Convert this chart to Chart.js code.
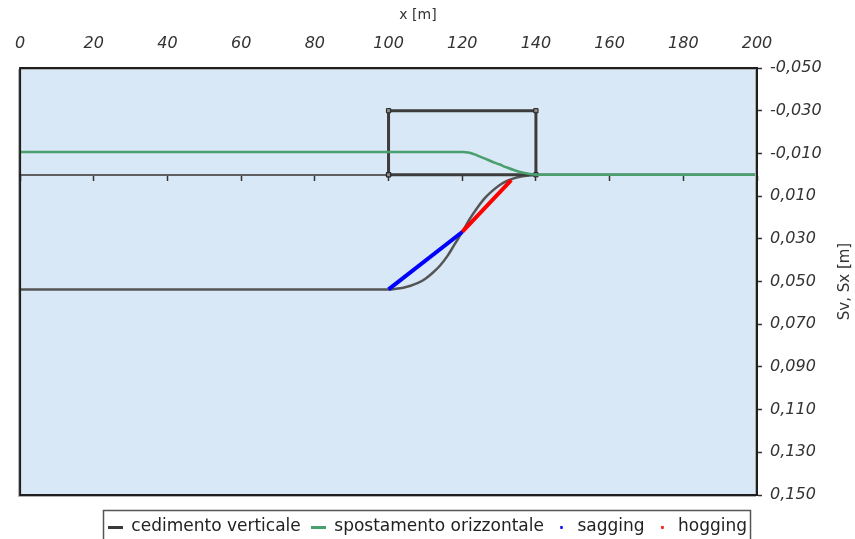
<!DOCTYPE html>
<html>
<head>
<meta charset="utf-8">
<script src="https://cdn.jsdelivr.net/npm/chart.js@4/dist/chart.umd.min.js"></script>
<style>
  html, body { margin: 0; padding: 0; background: #ffffff; }
  #wrap { width: 855px; height: 539px; }
</style>
</head>
<body>
<div id="wrap"><canvas id="c" width="855" height="539"></canvas></div>
<script>
// ---- data ----
const xTicks = [0, 20, 40, 60, 80, 100, 120, 140, 160, 180, 200];
const yTicks = [-0.05, -0.03, -0.01, 0.01, 0.03, 0.05, 0.07, 0.09, 0.11, 0.13, 0.15];

const seriesNames = ['cedimento verticale', 'spostamento orizzontale', 'sagging', 'hogging'];

const cedX = [0, 100, 102, 104, 106, 108, 110, 112, 114, 116, 118, 120, 122, 124, 126, 128, 130, 132, 134, 136, 138, 140, 200];
const cedY = [0.0537, 0.0537, 0.0534, 0.0529, 0.0520, 0.0507, 0.0487, 0.0459, 0.0425, 0.0380, 0.0324, 0.0268, 0.0208, 0.0157, 0.0112, 0.0078, 0.0050, 0.0030, 0.0017, 0.0008, 0.0003, 0.0000, 0.0000];

const spoX = [0, 120, 122, 124, 126, 128, 130, 132, 134, 136, 138, 140, 200];
const spoY = [-0.0107, -0.0107, -0.0103, -0.0091, -0.0077, -0.0062, -0.0049, -0.0035, -0.0022, -0.0012, -0.0005, 0.0000, 0.0000];

const sagX = [100, 120];
const sagY = [0.0537, 0.0268];

const hogX = [120, 133.3];
const hogY = [0.0268, 0.0025];

const edX = [100, 100, 140, 140, 100];
const edY = [0, -0.03, -0.03, 0, 0];

const pts = (xs, ys) => xs.map((x, i) => ({x: x, y: ys[i]}));

// ---- styles ----
const FONT = "'DejaVu Sans', sans-serif";
const colGray = '#555555';
const colGreen = '#4a9f6e';
const colBlue = '#0000ff';
const colRed = '#ff0000';

function marker(w, h, color, round) {
  const c = document.createElement('canvas');
  c.width = w; c.height = h;
  const g = c.getContext('2d');
  g.fillStyle = color;
  if (round) { g.beginPath(); g.arc(w / 2, h / 2, w / 2, 0, Math.PI * 2); g.fill(); }
  else g.fillRect(0, 0, w, h);
  return c;
}
const legendMarkers = [
  marker(15, 3, '#3a3a3a', false),
  marker(15, 3, colGreen, false),
  marker(3, 3, colBlue, true),
  marker(3, 3, colRed, true)
];

const bgPlugin = {
  id: 'plotBg',
  beforeDraw(chart) {
    const {ctx, chartArea: a} = chart;
    ctx.save();
    ctx.fillStyle = '#d9e8f6';
    ctx.fillRect(a.left, a.top, a.right - a.left, a.bottom - a.top);
    ctx.restore();
  },
  beforeLayout(chart) {
    const lg = chart.legend;
    if (lg && !lg._patched) {
      const f = lg.fit;
      lg.fit = function () { f.call(this); this.height = 44; };
      lg._patched = true;
    }
  },
  afterDraw(chart) {
    const {ctx, chartArea: a} = chart;
    ctx.save();
    // frame shadow
    ctx.strokeStyle = '#b0b0b0';
    ctx.lineWidth = 1;
    ctx.strokeRect(a.left - 1.5, a.top + 1.5, a.right - a.left, a.bottom - a.top);
    // frame
    ctx.strokeStyle = '#1e1e1e';
    ctx.lineWidth = 2;
    ctx.strokeRect(a.left, a.top, a.right - a.left, a.bottom - a.top);
    ctx.fillStyle = '#333333';
    // x axis title
    ctx.font = "14px " + FONT;
    ctx.textAlign = 'center';
    ctx.textBaseline = 'middle';
    ctx.fillText('x [m]', 418, 15);
    // y axis title (reads bottom to top)
    ctx.translate(845, (a.top + a.bottom) / 2);
    ctx.rotate(-Math.PI / 2);
    ctx.font = "15px " + FONT;
    ctx.fillText('Sv, Sx [m]', 0, 0);
    ctx.restore();
    // legend frame
    const hb = chart.legend && chart.legend.legendHitBoxes;
    if (hb && hb.length) {
      let l = Infinity, r = -Infinity;
      hb.forEach(h => { l = Math.min(l, h.left); r = Math.max(r, h.left + h.width); });
      ctx.save();
      ctx.strokeStyle = '#555555';
      ctx.lineWidth = 1.5;
      ctx.strokeRect(Math.round(l - 5) + 0.5, 510.5, Math.round(r - l + 8), 40);
      ctx.restore();
    }
  }
};

new Chart(document.getElementById('c'), {
  type: 'scatter',
  data: {
    datasets: [
      {
        label: seriesNames[0], data: pts(cedX, cedY), showLine: true,
        borderColor: colGray, borderWidth: 2.5, pointRadius: 0,
        cubicInterpolationMode: 'monotone', order: 4, xAxisID: 'x', yAxisID: 'y'
      },
      {
        label: seriesNames[1], data: pts(spoX, spoY), showLine: true,
        borderColor: colGreen, borderWidth: 2.5, pointRadius: 0,
        cubicInterpolationMode: 'monotone', order: 2, xAxisID: 'x', yAxisID: 'y'
      },
      {
        label: seriesNames[2], data: pts(sagX, sagY), showLine: true,
        borderColor: colBlue, borderWidth: 4, pointRadius: 0,
        order: 0, xAxisID: 'x', yAxisID: 'y'
      },
      {
        label: seriesNames[3], data: pts(hogX, hogY), showLine: true,
        borderColor: colRed, borderWidth: 4, pointRadius: 0,
        order: 0, xAxisID: 'x', yAxisID: 'y'
      },
      {
        label: 'edificio', data: pts(edX, edY), showLine: true,
        borderColor: '#3c3c3c', borderWidth: 3, tension: 0,
        pointStyle: 'rect', pointRadius: 3, pointBorderWidth: 1,
        pointBorderColor: '#222222', pointBackgroundColor: '#8a8a8a',
        order: 3, xAxisID: 'x', yAxisID: 'y'
      }
    ]
  },
  options: {
    responsive: false,
    devicePixelRatio: 1,
    animation: false,
    layout: { padding: { left: 0, right: 0, top: 0, bottom: 0 } },
    plugins: {
      tooltip: { enabled: false },
      legend: {
        position: 'bottom',
        title: { display: true, text: '', padding: 0, font: { size: 10, lineHeight: 1.35 } },
        labels: {
          usePointStyle: true,
          boxWidth: 15,
          boxHeight: 17,
          padding: 10,
          color: '#222222',
          font: { family: FONT, size: 17 },
          generateLabels() {
            return seriesNames.map((t, i) => ({
              text: t, pointStyle: legendMarkers[i], datasetIndex: i,
              hidden: false, lineWidth: 0, fillStyle: 'transparent', strokeStyle: 'transparent',
              fontColor: '#222222'
            }));
          }
        }
      }
    },
    scales: {
      x: {
        type: 'linear', position: 'top', min: 0, max: 200,
        afterBuildTicks(s) { s.ticks = xTicks.map(v => ({value: v})); },
        afterFit(s) { s.height = 68; },
        grid: { display: false, drawTicks: false },
        border: { display: false },
        ticks: {
          padding: 15, color: '#333333', maxRotation: 0,
          font: { family: FONT, size: 16, style: 'italic' },
          callback: v => String(v)
        },
        title: { display: false }
      },
      x2: {
        type: 'linear', axis: 'x', position: { y: 0 }, min: 0, max: 200,
        afterBuildTicks(s) { s.ticks = xTicks.map(v => ({value: v})); },
        grid: { display: true, drawOnChartArea: false, drawTicks: true, tickLength: 5, tickColor: '#333333', tickWidth: 1.5 },
        border: { display: true, color: '#606060', width: 2 },
        ticks: { display: false }
      },
      yl: {
        type: 'linear', axis: 'y', position: 'left', min: -0.05, max: 0.15,
        afterFit(s) { s.width = 19; },
        grid: { display: false, drawTicks: false },
        border: { display: false },
        ticks: { display: false }
      },
      y: {
        type: 'linear', position: 'right', reverse: true, min: -0.05, max: 0.15,
        afterBuildTicks(s) { s.ticks = yTicks.map(v => ({value: v})); },
        afterFit(s) { s.width = 98; },
        grid: { display: true, drawOnChartArea: false, drawTicks: true, tickLength: 5, tickColor: '#333333', tickWidth: 1.5 },
        border: { display: true, color: '#1e1e1e', width: 2 },
        ticks: {
          padding: 8, color: '#333333',
          font: { family: FONT, size: 16, style: 'italic' },
          callback: v => Number(v).toFixed(3).replace('.', ',')
        }
      }
    }
  },
  plugins: [bgPlugin]
});
</script>
</body>
</html>
